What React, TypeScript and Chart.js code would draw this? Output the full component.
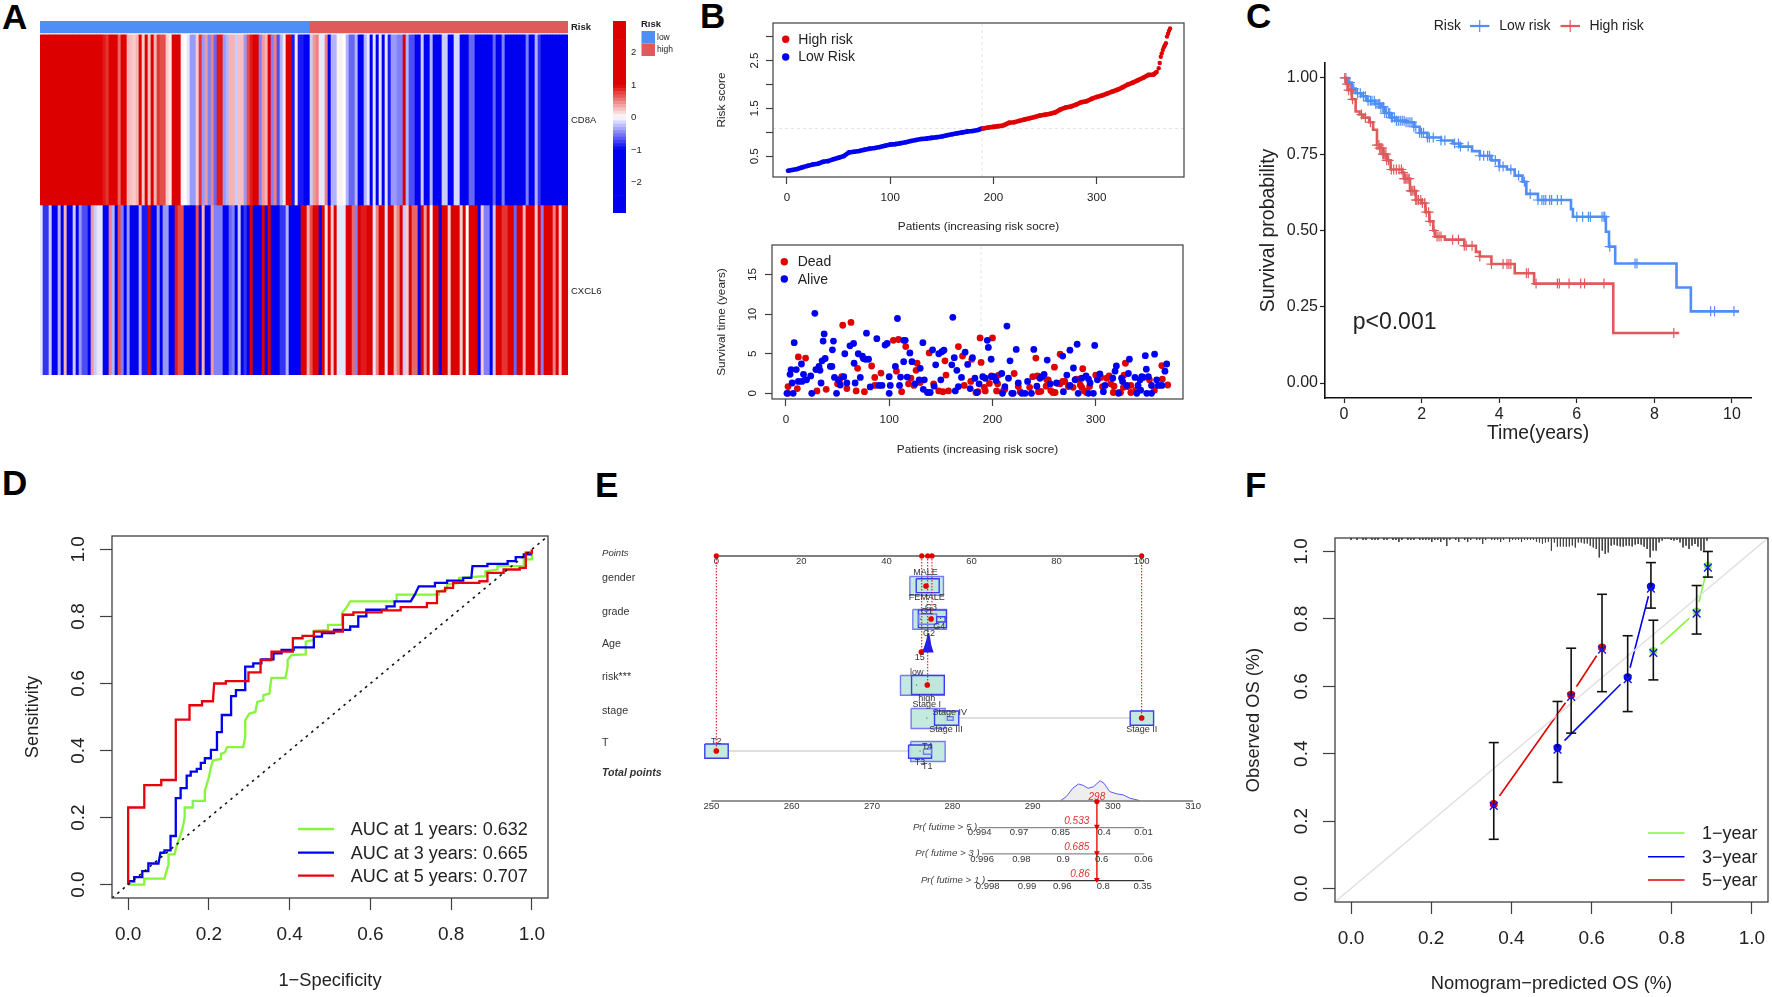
import React, { useEffect, useRef } from "react";
import { Chart, registerables } from "chart.js";

Chart.register(...registerables);

const F = '"Liberation Sans", Arimo, Helvetica, Arial, sans-serif';
const RED = "#e00000";
const BLUE = "#0000f0";
const DARK = "#3f3f3f";

/* ---------- Panel A ---------- */
const heatCD8A = [
  2.1,1.8,2.2,1.9,2.3,1.7,2.0,2.4,1.8,2.1,1.6,2.2,1.9,1.7,2.3,1.5,2.0,1.8,2.4,1.9,1.7,
  0.9,0.8,1.0,1.3,1.8,0.6,1.4,1.6,0.3,0.25,0.2,0.3,1.7,0.2,1.2,0.25,1.3,0.3,0.8,0.7,0.7,0.2,0.1,
  2.0,2.1,1.9,0.05,0,-0.1,-0.4,-0.4,0.2,0.8,-0.4,0.4,-0.5,0.5,-0.6,
  0.9,0.9,-0.4,-0.3,0.3,0.3,-0.2,0.25,0.25,-0.4,0.7,0.9,2.0,1.8,-0.5,0.4,0.3,1.1,-0.5,0.5,
  -0.7,-0.3,0.1,1.2,1.0,-0.9,0.1,-0.9,-0.9,-1.4,-1.4,-0.2,0.4,0.5,-0.1,-0.1,0.5,-1.2,-0.3,-0.3,
  0.05,0.05,0,-0.3,-0.6,-0.6,-0.3,-1.1,-1.1,-0.3,-0.1,-1.2,-0.1,-1.0,-0.1,-1.0,-0.1,-0.9,-0.4,
  -0.4,-0.5,-0.5,1.0,-0.3,-0.7,-0.7,-1.2,-1.2,-0.2,-1.1,-1.1,-0.3,-1.3,-1.3,-1.4,-0.2,-0.2,-1.3,-1.3,
  -0.15,-0.15,-1.3,-1.3,-1.4,-0.6,-0.6,-1.3,-1.3,-1.6,-1.5,-1.5,-1.4,-0.6,-1.4,-1.5,-0.5,-1.4,-1.5,-1.5,
  -1.6,-1.4,-1.5,-1.6,-0.5,-1.3,-1.4,-0.3,-0.8,-1.6,-1.6,-1.5,-1.6,-1.4,-1.6,-1.6,-1.5,-1.6,
];
const heatCXCL6 = [
  -0.1,-0.8,-0.8,-0.2,-1.4,-1.4,-0.3,-1.3,0.3,-1.4,-1.4,-0.2,-1.2,-0.4,-0.7,-0.7,-1.2,0.4,-0.2,-0.1,
  -0.1,-1.5,-1.5,0.5,-0.3,-1.1,0.7,-0.5,-1,-0.4,-1.5,-1.5,-1.5,-0.3,-0.9,-0.9,1.0,-1,-1,-0.4,
  -1.1,-0.4,-0.4,-1.1,-1.2,0.9,0.7,0.7,-1.5,-1.5,-1.5,-1.5,0.7,-1.3,0.3,-1.3,-1.3,0.4,-0.5,
  -0.5,-0.5,-1.4,-1.4,-0.6,-0.5,-1.3,-0.2,-1.3,-0.8,-1,1.8,-1.5,-1.5,-1.2,1.0,-1.3,1.2,-1,-1,
  -1,-0.8,-0.8,-0.3,-1.6,-1.6,-1.5,-1.5,1.0,1.0,0.3,0.7,1.2,1.2,-1.2,2.0,0.1,2.0,0.2,1.0,
  -0.1,-0.1,-0.1,1.8,1.8,0.6,-0.5,1.2,0.9,0.9,1.0,1.4,-0.1,0.5,1.4,1.4,-0.1,1.0,1.0,
  0.3,0.5,1.3,-0.2,0.2,1.5,0.6,0.6,-1,1.8,0.4,1.0,0,1.7,1.7,-1,1.8,1.8,0.2,1.8,
  2,2,0.2,1.9,0,1,1.4,2,-1,0.2,-0.5,-0.5,-1,-0.2,1.5,1.5,0.8,0.8,1.4,1.6,
  -0.6,1.4,1.3,0.3,1.9,1.9,1.9,0.2,1.5,-0.5,2,2,2,0.5,1.1,0.2,2.1,2.1,
];
const lowColumns = 90;
const colorbarEdges = [-2.94,-2.4,-1.9,-1.4,-1,-0.9,-0.8,-0.7,-0.6,-0.5,-0.4,-0.3,-0.2,-0.1,0,0.1,0.2,0.3,0.4,0.5,0.6,0.7,0.8,0.9,1,1.4,1.9,2.4,2.97];
const colorbarTicks = [2, 1, 0, -1, -2];
const colorbarLabels = ["2", "1", "0", "\u22121", "\u22122"];

/* ---------- Panel B ---------- */
const riskLow = [[1,0.2],[5,0.215],[10,0.235],[15,0.27],[20,0.3],[25,0.33],[30,0.345],[35,0.385],[40,0.4],[45,0.44],[50,0.47],[55,0.505],[60,0.58],[65,0.595],[70,0.61],[75,0.635],[80,0.66],[85,0.675],[90,0.695],[95,0.72],[100,0.744],[105,0.755],[110,0.775],[115,0.795],[120,0.82],[125,0.84],[130,0.86],[135,0.87],[140,0.885],[145,0.9],[150,0.915],[155,0.94],[160,0.96],[165,0.98],[170,1.0],[175,1.02],[180,1.03],[185,1.05],[189,1.08]];
const riskHigh = [[190,1.08],[195,1.1],[200,1.115],[205,1.13],[210,1.15],[215,1.2],[220,1.21],[225,1.24],[230,1.27],[235,1.295],[240,1.32],[245,1.35],[250,1.37],[255,1.39],[260,1.42],[265,1.48],[270,1.52],[275,1.54],[280,1.58],[285,1.63],[290,1.65],[295,1.7],[300,1.74],[305,1.77],[310,1.81],[315,1.85],[320,1.89],[325,1.94],[330,2.0],[335,2.04],[340,2.09],[345,2.14],[350,2.2],[355,2.21],[358,2.26]];
const riskTail = [[360,2.34],[361,2.45],[362,2.58],[363,2.65],[364,2.72],[365,2.78],[366,2.82],[367,2.86],[368,3.0],[369,3.06],[370,3.12],[371,3.17]];
const riskCutX = 189;
const riskCutY = 1.08;
const deadPatients = [[2,0.85],[2,0],[12,4.6],[11,0.6],[19,4.45],[18.7,1.7],[30,0.3],[39,0.5],[50,1.2],[52,1.7],[54,2.1],[55,8.6],[59,0.6],[63,8.95],[68,0.3],[69.4,3.15],[76,0.2],[83,3.45],[86,2],[86,1],[92,2.55],[104,6.7],[109,6.8],[107,2.8],[112,0.2],[116,5.9],[118.7,1.2],[121,1.9],[124,1],[126,2.9],[127,3.8],[130,1.35],[138.7,5.1],[143,1.2],[148,0.3],[152,0.2],[154,4.1],[155,2.3],[157.4,0.3],[167,5.9],[171,4.7],[172.6,1],[180,4.3],[179,1.5],[184,0.1],[186,0.2],[188,7],[189,3.9],[192,0.75],[193,0.3],[197,1.25],[200,7],[199,2.2],[204,0.3],[205,1.2],[206,2.3],[210.6,0.35],[212,0.5],[221,2.5],[225,0.85],[226.8,0.2],[236,0.75],[239,2.1],[242,4.45],[243.5,2.2],[244.5,0.2],[246.8,0.25],[252,0.9],[252.6,1.7],[254,1.7],[256.5,0.35],[258.4,0.1],[260,3.3],[260.6,0.1],[264,1.25],[265.5,4.95],[265.5,1.2],[268,1.5],[270,1.5],[273.5,0.85],[278,0.75],[281,1.8],[283.5,1.8],[285,1.05],[286.5,0.75],[287.4,3.1],[289,0.3],[291,0.1],[294,0.85],[300,2.3],[305,2],[306.5,0.85],[310.6,1.9],[313,2.2],[314.5,1.2],[317,0.1],[317.7,0.9],[322.6,0.1],[324,0.1],[327.4,2.3],[326.8,0.75],[328.7,3.8],[330.6,0.85],[334,1],[334,0.1],[339,0.4],[352,1.7],[356.8,0.4],[364,3.5],[364.5,1.8],[369.7,1.05]];
const alivePatients = [[1,0],[7,0],[4,2.4],[5,3],[8,6.4],[6,1.3],[10,3],[15,3.7],[17,2.4],[12,1.5],[15.5,1.5],[20,1.7],[24,2.2],[25,0],[28,10.1],[29,3],[32,3.4],[33,2.9],[34,1.3],[35,4.1],[38,4.4],[36,6.6],[37,7.5],[43,3.4],[44.5,3.4],[45,5.5],[46,6.6],[47,2],[49,0],[51,1.7],[52.6,1.05],[56,2.1],[57,5],[59,1.3],[62,6],[65.5,6.3],[66,3.8],[67,1.3],[70,5],[72,2],[74,4.7],[75,4.4],[77,4.3],[78,7.6],[80,4.3],[81.6,0.8],[88,6.9],[90,1],[93,1],[96,6.1],[98,6.3],[100,0],[100,2.1],[101,1],[106,3.4],[108,9.45],[110,1],[114,6.7],[115.5,6.7],[114,4],[111,2.05],[117.4,2.05],[120,5.1],[122,4],[125,1.2],[130,3.15],[129,1.7],[132.6,6.4],[133,0.5],[134,1.7],[137,0.1],[139.7,0.1],[142,5.5],[143.5,0.9],[145,3.6],[148,5],[150,1.7],[151,5.25],[153,5.45],[160.6,3.6],[161.6,9.6],[163,4.5],[165.5,2.9],[164,0.3],[167,0.85],[170,2],[173.5,5.2],[176,3.65],[178.4,0.6],[180.6,4.5],[183,1.9],[185,0.1],[187,1.2],[190.6,2.1],[193,1.9],[195,6.7],[196,5.8],[198.7,4.3],[199,2.1],[201.6,2.1],[203.5,1.6],[209,2.5],[209.7,0],[212,0.85],[214,8.5],[215.5,1.9],[217,4.1],[218.7,0],[220,0],[223,5.55],[225,1.3],[228.4,0],[231.6,0],[234,1.5],[237.7,0],[240,5.55],[243,0.9],[246,1.9],[247.7,2.1],[250,2.4],[253,4.2],[256,1.2],[262,1.3],[268,4.7],[268.7,0.2],[272,2.3],[275,5.45],[275,1],[278.4,3.2],[280,1.7],[282,6.2],[283,0],[286.5,1.9],[290.6,2.2],[293,1.8],[294.5,1.3],[293,0],[297.7,0],[299,6.05],[301.6,1.7],[304,2.45],[307.4,0.2],[309,1],[316.5,1.9],[318.7,2.8],[320,3.45],[322,0],[326,1.5],[325,1.9],[330,1],[331.6,2.5],[332.6,4.3],[338,2],[339.7,0],[341,1],[343,1.7],[344.5,2.1],[343.5,0.4],[346,2],[348,4.75],[349,3.05],[351,2.1],[349.4,0],[354,0],[354,1],[357,4.95],[359,1.7],[360.6,1],[364,1],[367,2.8],[368.7,3.7]];

/* ---------- Panel C ---------- */
const kmLow = [[0,1],[0.1,0.985],[0.2,0.965],[0.3,0.95],[0.45,0.94],[0.6,0.925],[0.8,0.915],[0.95,0.905],[1.05,0.885],[1.2,0.87],[1.35,0.86],[1.6,0.855],[1.8,0.84],[1.95,0.82],[2.15,0.805],[2.5,0.795],[2.8,0.785],[3.0,0.775],[3.3,0.76],[3.5,0.745],[3.8,0.73],[4.0,0.71],[4.2,0.7],[4.4,0.68],[4.6,0.66],[4.7,0.62],[5.0,0.6],[5.85,0.57],[5.9,0.545],[6.75,0.496],[6.83,0.447],[6.99,0.392],[8.57,0.313],[8.94,0.235],[10.18,0.235]];
const kmHigh = [[0,1],[0.05,0.98],[0.1,0.96],[0.2,0.93],[0.3,0.89],[0.4,0.88],[0.5,0.87],[0.65,0.855],[0.75,0.83],[0.85,0.78],[0.92,0.77],[1.0,0.75],[1.1,0.73],[1.2,0.7],[1.5,0.69],[1.55,0.67],[1.7,0.63],[1.85,0.6],[2.0,0.59],[2.1,0.56],[2.2,0.53],[2.3,0.5],[2.35,0.48],[2.6,0.47],[3.1,0.45],[3.4,0.43],[3.5,0.415],[3.8,0.39],[4.4,0.36],[4.9,0.326],[6.94,0.164],[8.64,0.164]];
const censorLow = [0.05,0.15,0.25,0.35,0.42,0.5,0.55,0.62,0.68,0.72,0.78,0.82,0.88,0.92,0.95,1.0,1.02,1.05,1.1,1.15,1.18,1.22,1.25,1.3,1.35,1.4,1.45,1.5,1.55,1.6,1.65,1.7,1.75,1.8,1.85,1.95,2.0,2.05,2.15,2.2,2.3,2.5,2.6,2.85,2.95,3.0,3.2,3.5,3.6,3.7,3.75,3.9,4.0,4.1,4.3,4.5,4.65,4.8,5.0,5.1,5.15,5.2,5.3,5.35,5.5,5.6,6.0,6.15,6.3,6.35,6.65,6.7,6.72,6.85,7.5,7.55,9.45,9.55,10.05];
const censorHigh = [0.02,0.08,0.12,0.18,0.22,0.45,0.55,0.68,0.85,0.9,0.92,0.95,0.98,1.0,1.02,1.05,1.08,1.1,1.15,1.22,1.28,1.35,1.42,1.48,1.52,1.55,1.58,1.62,1.65,1.68,1.72,1.75,1.78,1.82,1.85,1.88,1.92,1.98,2.02,2.08,2.12,2.18,2.22,2.32,2.4,2.45,2.5,2.8,2.95,3.1,3.15,3.3,3.5,3.8,4.1,4.2,4.25,4.3,4.7,4.75,4.95,5.5,5.55,5.8,6.1,6.2,6.7,8.5];

/* ---------- Panel D ---------- */
const roc1 = [[0,0],[0.04,0],[0.04,0.018],[0.09,0.018],[0.095,0.04],[0.1,0.06],[0.1,0.09],[0.115,0.09],[0.12,0.115],[0.13,0.15],[0.135,0.17],[0.14,0.2],[0.14,0.23],[0.16,0.23],[0.16,0.25],[0.19,0.25],[0.19,0.28],[0.195,0.3],[0.2,0.32],[0.205,0.35],[0.21,0.37],[0.23,0.375],[0.23,0.39],[0.24,0.395],[0.245,0.41],[0.285,0.41],[0.29,0.44],[0.29,0.49],[0.3,0.51],[0.315,0.515],[0.32,0.545],[0.335,0.55],[0.335,0.565],[0.35,0.57],[0.353,0.6],[0.355,0.617],[0.39,0.617],[0.395,0.65],[0.395,0.67],[0.405,0.685],[0.44,0.687],[0.44,0.725],[0.46,0.73],[0.46,0.757],[0.495,0.76],[0.495,0.775],[0.53,0.775],[0.53,0.81],[0.54,0.825],[0.55,0.845],[0.665,0.845],[0.665,0.865],[0.77,0.865],[0.77,0.875],[0.79,0.88],[0.79,0.895],[0.82,0.9],[0.82,0.915],[0.885,0.92],[0.885,0.935],[0.915,0.94],[0.915,0.95],[0.98,0.95],[0.98,0.97],[1,0.97],[1,1]];
const roc3 = [[0,0],[0,0.01],[0.015,0.01],[0.015,0.022],[0.035,0.022],[0.035,0.04],[0.05,0.04],[0.05,0.063],[0.075,0.063],[0.08,0.095],[0.09,0.095],[0.09,0.102],[0.105,0.102],[0.105,0.145],[0.118,0.145],[0.118,0.258],[0.13,0.258],[0.13,0.288],[0.145,0.288],[0.145,0.325],[0.155,0.325],[0.155,0.337],[0.17,0.337],[0.17,0.345],[0.18,0.345],[0.18,0.363],[0.19,0.363],[0.19,0.377],[0.205,0.377],[0.205,0.402],[0.22,0.402],[0.22,0.455],[0.232,0.455],[0.232,0.506],[0.255,0.506],[0.255,0.562],[0.267,0.562],[0.267,0.58],[0.29,0.58],[0.29,0.65],[0.31,0.65],[0.31,0.66],[0.33,0.66],[0.33,0.672],[0.36,0.672],[0.36,0.69],[0.38,0.69],[0.38,0.7],[0.41,0.7],[0.41,0.708],[0.46,0.708],[0.46,0.74],[0.48,0.74],[0.48,0.75],[0.51,0.75],[0.51,0.76],[0.55,0.76],[0.55,0.77],[0.57,0.77],[0.57,0.8],[0.59,0.8],[0.59,0.82],[0.64,0.82],[0.64,0.83],[0.66,0.83],[0.66,0.845],[0.7,0.845],[0.71,0.865],[0.72,0.89],[0.76,0.89],[0.76,0.9],[0.79,0.9],[0.79,0.907],[0.83,0.907],[0.83,0.915],[0.85,0.915],[0.853,0.95],[0.89,0.95],[0.89,0.957],[0.94,0.957],[0.94,0.965],[0.96,0.965],[0.96,0.977],[0.98,0.977],[0.98,0.985],[1,0.985]];
const roc5 = [[0,0],[0,0.23],[0.04,0.23],[0.04,0.297],[0.082,0.297],[0.082,0.312],[0.118,0.312],[0.118,0.492],[0.152,0.492],[0.152,0.535],[0.183,0.535],[0.183,0.547],[0.21,0.547],[0.213,0.6],[0.242,0.6],[0.242,0.607],[0.298,0.607],[0.298,0.633],[0.328,0.633],[0.328,0.67],[0.355,0.67],[0.355,0.695],[0.406,0.695],[0.408,0.735],[0.432,0.735],[0.432,0.742],[0.46,0.742],[0.46,0.755],[0.532,0.755],[0.532,0.805],[0.558,0.805],[0.558,0.812],[0.628,0.812],[0.628,0.818],[0.675,0.818],[0.675,0.828],[0.74,0.828],[0.74,0.84],[0.765,0.84],[0.765,0.875],[0.785,0.875],[0.785,0.885],[0.805,0.885],[0.805,0.9],[0.87,0.9],[0.87,0.905],[0.89,0.905],[0.89,0.93],[0.93,0.93],[0.93,0.94],[0.97,0.94],[0.97,0.945],[0.985,0.945],[0.985,0.99],[1,0.99],[1,1]];
const rocLegend = ["AUC at 1 years: 0.632", "AUC at 3 years: 0.665", "AUC at 5 years: 0.707"];
const unitTicks = [0, 0.2, 0.4, 0.6, 0.8, 1];

/* ---------- Panel E ---------- */
const nomoRowNames: [string, number, string][] = [
  ["Points", 0.02, "italic"], ["gender", 0.77, ""], ["grade", 1.78, ""], ["Age", 2.77, ""],
  ["risk***", 3.75, ""], ["stage", 4.78, ""], ["T", 5.77, ""], ["Total points", 6.68, "italic bold"],
];
const pointTicks = [0, 20, 40, 60, 80, 100];
const totalTicks = [250, 260, 270, 280, 290, 300, 310];
const nomoLevels: [string, number, number][] = [
  ["MALE",49.2,0.6],["FEMALE",49.5,1.35],["G3",50.5,1.65],["G1",49.5,1.77],["G4",52.4,2.23],["G2",50,2.43],
  ["15",47.8,3.17],["low",47.1,3.62],["high",49.5,4.4],["Stage I",49.5,4.59],["Stage IV",54.9,4.84],
  ["Stage III",54,5.34],["Stage II",100,5.34],["T2",0,5.7],["T4",49.6,5.85],["T3",47.9,6.35],["T1",49.6,6.46],
];
const nomoBoxes = [
  [45.5,53.4,0.71,1.28],[47,52.4,0.78,1.2],
  [46.2,54.1,1.71,2.31],[47.5,54.1,1.73,2.26],[47.6,51.8,1.85,2.16],[51.8,53.8,1.93,2.09],
  [43.3,53.6,3.71,4.31],[45.9,53.6,3.71,4.29],
  [45.8,53.8,4.71,5.32],[51.3,57,4.79,5.22],[54.3,55.7,4.96,5.07],[97.3,102.8,4.79,5.22],
  [45.7,53.8,5.71,6.32],[45.2,50.6,5.82,6.22],[48.7,50.6,5.94,6.1],[-2.7,2.8,5.79,6.22],
];
const nomoConnectors = [[57,97.3,5],[2.8,45.2,6]];
const nomoAgeShape = [[49.8,2.43],[49.5,2.64],[48.9,2.89],[48.3,3],[50.9,3],[50.4,2.79],[50.1,2.54],[49.8,2.43]];
const nomoDots = [[49.3,1],[50.5,2],[48.2,3],[49.6,4],[100,5],[0,6]];
const nomoAxisDots = [0, 48.3, 49.7, 50.7, 100];
const nomoDrops = [[0,6],[100,5],[48.3,3],[50.7,2],[49.7,4]];
const nomoSmallDots = [[47.1,4],[49.5,5],[47.9,6],[49.6,5.93],[52.7,1.98],[48,2]];
const densityTotal = [[293.5,7.5],[294.2,7.38],[295,7.13],[295.7,7],[296.3,7.04],[296.9,7.13],[297.6,7.08],[298.4,6.9],[298.9,6.98],[299.6,7.23],[300.5,7.3],[301.3,7.33],[302.1,7.43],[303.3,7.5]];
const predictedTotal = 298;
const nomoProbAxes: { title: string; row: number; titleEnd: number; start: number; color: string; red: string; redRow: number; redX: number; labels: [string, number][]; labelRow: number }[] = [
  { title: "Pr( futime > 5 )", row: 8.32, titleEnd: 283.1, start: 283.3, color: "#8a8a8a", red: "0.533", redRow: 8.12, redX: 295.5, labelRow: 8.47, labels: [["0.994",283.4],["0.97",288.3],["0.85",293.5],["0.4",298.9],["0.01",303.8]] },
  { title: "Pr( futime > 3 )", row: 9.12, titleEnd: 283.4, start: 283.7, color: "#8a8a8a", red: "0.685", redRow: 8.93, redX: 295.5, labelRow: 9.27, labels: [["0.996",283.7],["0.98",288.6],["0.9",293.8],["0.6",298.6],["0.06",303.8]] },
  { title: "Pr( futime > 1 )", row: 9.93, titleEnd: 284.1, start: 284.4, color: "#333333", red: "0.86", redRow: 9.73, redX: 295.9, labelRow: 10.09, labels: [["0.998",284.4],["0.99",289.3],["0.96",293.7],["0.8",298.8],["0.35",303.7]] },
];

/* ---------- Panel F ---------- */
const cal1 = [[0.754,0.705,0.619,0.796],[0.862,0.822,0.755,0.899],[0.89,0.958,0.924,1.0]];
const cal3 = [[0.515,0.418,0.315,0.555],[0.69,0.627,0.525,0.75],[0.748,0.896,0.832,0.967]];
const cal5 = [[0.356,0.251,0.146,0.433],[0.549,0.575,0.461,0.713],[0.626,0.715,0.584,0.873]];
const calCorrection = -0.006;
const calLegend = ["1\u2212year", "3\u2212year", "5\u2212year"];
const rugStart = 0.0;
const rugStep = 0.00746;
const rugCounts = [
  1,0,1,0,1,1,0,1,1,1,0,1,1,0,1,1,2,1,0,1,1,1,0,1,1,1,1,2,1,1,2,1,4,1,0,1,2,0,1,2,1,0,1,1,3,1,0,1,1,1,2,1,0,2,1,1,1,2,1,1,1,1,2,
  2.2,3,2.2,1.8,6.3,2.2,4.3,4.2,4.2,4.3,4.2,3.7,4.7,2.2,2.2,2.7,2.7,3.8,4.7,5.5,9.7,6.3,8,7.2,3.8,3.3,3.8,4.2,4.3,3.8,3.8,4.2,3.3,3,3.3,4.3,5.5,9.7,6.3,6.3,2.2,1.3,0.5,0.5,1,1.3,1,2.2,4.7,3.8,5.5,3.8,3,4.3,6.3,6.3,1.3,
];
const rugPixelsPerCount = 2;

/* ---------- helpers ---------- */
const pts = (a: number[][]) => a.map(([x, y]) => ({ x, y }));

const txt = (c: any, s: string, x: number, y: number, font: string, color = "#222", align: any = "left", rot = 0) => {
  c.save();
  c.translate(x, y);
  if (rot) c.rotate(rot);
  c.font = font;
  c.fillStyle = color;
  c.textAlign = align;
  c.textBaseline = "middle";
  c.fillText(s, 0, 0);
  c.restore();
};
const seg = (c: any, x0: number, y0: number, x1: number, y1: number, color: string, w: number) => {
  c.save();
  c.strokeStyle = color;
  c.lineWidth = w;
  c.beginPath();
  c.moveTo(x0, y0);
  c.lineTo(x1, y1);
  c.stroke();
  c.restore();
};
const dot = (c: any, x: number, y: number, r: number, color: string) => {
  c.save();
  c.fillStyle = color;
  c.beginPath();
  c.arc(x, y, r, 0, Math.PI * 2);
  c.fill();
  c.restore();
};

type Rect = { left: number; top: number; width: number; height: number };

function scale(o: any) {
  const fmt = o.labels ? (v: number) => o.labels[o.ticks.indexOf(v)] : o.fmt || ((v: number) => String(v));
  return {
    type: "linear",
    position: o.position,
    min: o.min,
    max: o.max,
    afterBuildTicks: (s: any) => {
      s.ticks = o.ticks.map((value: number) => ({ value }));
    },
    afterFit: (s: any) => {
      if (o.box.width !== undefined) s.width = o.box.width;
      if (o.box.height !== undefined) s.height = o.box.height;
      s.paddingLeft = s.paddingRight = s.paddingTop = s.paddingBottom = 0;
    },
    ticks: {
      autoSkip: false,
      font: { family: F, size: o.size },
      color: o.tickColor || "#222",
      padding: o.pad,
      callback: fmt,
      ...(o.rot ? { minRotation: 90, maxRotation: 90, crossAlign: "center" } : { minRotation: 0, maxRotation: 0 }),
    },
    grid: {
      display: true,
      drawOnChartArea: false,
      drawTicks: true,
      tickLength: o.tl,
      tickColor: o.lineColor || DARK,
      tickWidth: o.lineW || 1.2,
    },
    border: o.axisLine ? { display: true, color: "#111", width: 1.6 } : { display: false },
    title: o.title
      ? { display: true, text: o.title, padding: 0, color: "#222", font: { family: F, size: o.titleSize, lineHeight: 1.2 } }
      : { display: false },
  };
}

const framePlugin = (color: string, w: number) => ({
  id: "frame",
  afterDatasetsDraw(ch: any) {
    const a = ch.chartArea;
    const c = ch.ctx;
    c.save();
    c.strokeStyle = color;
    c.lineWidth = w;
    c.strokeRect(a.left, a.top, a.right - a.left, a.bottom - a.top);
    c.restore();
  },
});
const overlay = (ox: number, oy: number, draw: (c: any, ch: any) => void) => ({
  id: "overlay",
  afterDatasetsDraw(ch: any) {
    const c = ch.ctx;
    c.save();
    c.translate(-ox, -oy);
    draw(c, ch);
    c.restore();
  },
});

const baseOptions = (layoutPadding: any, scales: any) => ({
  responsive: false,
  maintainAspectRatio: false,
  animation: false,
  events: [],
  devicePixelRatio: 1,
  layout: { padding: layoutPadding, autoPadding: false },
  plugins: { legend: { display: false }, tooltip: { enabled: false } },
  scales,
});

/* plot panel with exact plot rectangle */
function plotPanel(p: any) {
  const lh = (s: number) => s * 1.2;
  const yW = p.x0 - p.yTitleX + lh(p.yTitleSize) / 2;
  const xH = p.xTitleY - p.y1 + lh(p.xTitleSize) / 2;
  const padT = 10;
  const padR = p.padR ?? 12;
  const rect: Rect = {
    left: Math.round(p.x0 - yW),
    top: p.y0 - padT,
    width: Math.round(p.x1 - (p.x0 - yW) + padR),
    height: Math.round(p.y1 - p.y0 + padT + xH),
  };
  const fixedW = p.x0 - rect.left;
  const fixedH = rect.top + rect.height - p.y1;
  return {
    rect,
    make: (datasets: any[], extra: any[]) => ({
      type: "scatter",
      data: { datasets },
      plugins: extra,
      options: baseOptions(
        { top: padT, right: rect.width - fixedW - (p.x1 - p.x0), left: 0, bottom: 0 },
        {
          x: scale({ ...p.xAxis, position: "bottom", box: { height: fixedH }, title: p.xTitle, titleSize: p.xTitleSize }),
          y: scale({ ...p.yAxis, position: "left", box: { width: fixedW }, title: p.yTitle, titleSize: p.yTitleSize }),
        }
      ),
    }),
    ox: rect.left,
    oy: rect.top,
  };
}

const heatColor = (z: number) => {
  const t = Math.min(Math.abs(z), 1);
  const mix = (a: number, b: number) => Math.round(a + (b - a) * t);
  return z >= 0
    ? `rgb(${mix(255, 221)},${mix(255, 0)},${mix(255, 0)})`
    : `rgb(${mix(255, 0)},${mix(255, 0)},${mix(255, 240)})`;
};

function stepAt(curve: number[][], t: number) {
  let s = curve[0][1];
  for (const [x, y] of curve) if (x <= t) s = y;
  return s;
}

/* ---------- all panels ---------- */
function buildCharts(): { rect: Rect; config: any }[] {
  const out: { rect: Rect; config: any }[] = [];

  /* A heatmap */
  {
    const rect = { left: 40, top: 21, width: 528 + 130, height: 354 };
    const labels = heatCD8A.map((_, i) => String(i + 1));
    const annoTop = 2.082;
    const annoBottom = 2.012;
    out.push({
      rect,
      config: {
        type: "bar",
        data: {
          labels,
          datasets: [
            { data: heatCD8A.map(() => [1, 2]), backgroundColor: heatCD8A.map(heatColor) },
            { data: heatCXCL6.map(() => [0, 1]), backgroundColor: heatCXCL6.map(heatColor) },
            { data: labels.map(() => [annoBottom, annoTop]), backgroundColor: labels.map((_, i) => (i < lowColumns ? "#4f8ef5" : "#e05a5c")) },
          ].map((d) => ({ ...d, grouped: false, barPercentage: 1, categoryPercentage: 1, borderWidth: 0 })),
        },
        plugins: [
          overlay(rect.left, rect.top, (c) => {
            const f = `9.5px ${F}`;
            txt(c, "Risk", 571, 27, `bold ${f}`);
            txt(c, "CD8A", 571, 120, f);
            txt(c, "CXCL6", 571, 291, f);
            txt(c, "Risk", 641, 24, `bold ${f}`);
            c.fillStyle = "#4f8ef5";
            c.fillRect(641.5, 31, 13.5, 12.5);
            c.fillStyle = "#e05a5c";
            c.fillRect(641.5, 43.5, 13.5, 12.5);
            txt(c, "low", 657, 37.5, `8.5px ${F}`);
            txt(c, "high", 657, 50, `8.5px ${F}`);
          }),
        ],
        options: baseOptions(
          { right: 130, left: 0, top: 0, bottom: 0 },
          {
            x: { type: "category", display: false, offset: true, grid: { display: false } },
            y: { type: "linear", display: false, min: 0, max: annoTop },
          }
        ),
      },
    });
  }
  /* A colour key */
  {
    const rect = { left: 613, top: 21, width: 36, height: 192 };
    const y = scale({ min: -2.94, max: 2.97, ticks: colorbarTicks, labels: colorbarLabels, size: 9.5, pad: 5, tl: 0, box: { width: 23 }, position: "right" });
    out.push({
      rect,
      config: {
        type: "bar",
        data: {
          labels: ["key"],
          datasets: colorbarEdges.slice(1).map((hi, i) => {
            const lo = colorbarEdges[i];
            return { data: [[lo, hi]], backgroundColor: heatColor((lo + hi) / 2), grouped: false, barPercentage: 1, categoryPercentage: 1, borderWidth: 0 };
          }),
        },
        options: baseOptions(
          { left: 0, top: 0, right: 0, bottom: 0 },
          {
            x: { type: "category", display: false, offset: true },
            y: { ...y, grid: { display: false, drawTicks: false, tickLength: 0 } },
          }
        ),
      },
    });
  }

  /* B upper */
  {
    const p = plotPanel({
      x0: 773, x1: 1184, y0: 23, y1: 177,
      yTitle: "Risk score", yTitleX: 722.3, yTitleSize: 11.8,
      xTitle: "Patients (increasing risk socre)", xTitleY: 226.7, xTitleSize: 11.8,
      xAxis: { min: -13.5, max: 384.5, ticks: [0, 100, 200, 300], size: 11.6, tl: 7, pad: 6.5, lineColor: DARK },
      yAxis: { min: 0.068, max: 3.284, ticks: [0.5, 1, 1.5, 2, 2.5, 3], labels: ["0.5", "", "1.5", "", "2.5", ""], size: 11.6, tl: 7, pad: 3.5, rot: true },
    });
    const dashed = { showLine: true, borderColor: "#e4e4e4", borderWidth: 1, borderDash: [3, 3], pointRadius: 0 };
    out.push({
      rect: p.rect,
      config: p.make(
        [
          { data: pts(riskTail), backgroundColor: RED, borderColor: RED, pointRadius: 2.2, pointBorderWidth: 0 },
          { data: pts(riskHigh), showLine: true, borderColor: RED, borderWidth: 4.6, backgroundColor: RED, pointRadius: 2.3, pointBorderWidth: 0 },
          { data: pts(riskLow), showLine: true, borderColor: BLUE, borderWidth: 4.6, backgroundColor: BLUE, pointRadius: 2.3, pointBorderWidth: 0 },
          { data: [{ x: riskCutX, y: 0.068 }, { x: riskCutX, y: 3.284 }], ...dashed },
          { data: [{ x: -13.5, y: riskCutY }, { x: 384.5, y: riskCutY }], ...dashed },
        ],
        [
          framePlugin(DARK, 1.2),
          overlay(p.ox, p.oy, (c) => {
            dot(c, 785.7, 39.3, 3.7, RED);
            dot(c, 785.7, 57, 3.7, BLUE);
            txt(c, "High risk", 798.3, 40, `14px ${F}`);
            txt(c, "Low Risk", 798.3, 57.5, `14px ${F}`);
          }),
        ]
      ),
    });
  }
  /* B lower */
  {
    const p = plotPanel({
      x0: 772, x1: 1183, y0: 245, y1: 399,
      yTitle: "Survival time (years)", yTitleX: 721.7, yTitleSize: 11.8,
      xTitle: "Patients (increasing risk socre)", xTitleY: 450, xTitleSize: 11.8,
      xAxis: { min: -13.5, max: 384.5, ticks: [0, 100, 200, 300], size: 11.6, tl: 7, pad: 6.5 },
      yAxis: { min: -0.72, max: 18.74, ticks: [0, 5, 10, 15], labels: ["0", "5", "10", "15"], size: 11.6, tl: 7, pad: 6, rot: true },
    });
    out.push({
      rect: p.rect,
      config: p.make(
        [
          { data: pts(alivePatients), backgroundColor: BLUE, pointRadius: 3.4, pointBorderWidth: 0 },
          { data: pts(deadPatients), backgroundColor: RED, pointRadius: 3.4, pointBorderWidth: 0 },
          { data: [{ x: riskCutX, y: -0.72 }, { x: riskCutX, y: 18.74 }], showLine: true, borderColor: "#e4e4e4", borderWidth: 1, borderDash: [3, 3], pointRadius: 0 },
        ],
        [
          framePlugin(DARK, 1.2),
          overlay(p.ox, p.oy, (c) => {
            dot(c, 784.3, 261.7, 3.7, RED);
            dot(c, 784.3, 279, 3.7, BLUE);
            txt(c, "Dead", 797.7, 262.5, `14px ${F}`);
            txt(c, "Alive", 797.7, 280, `14px ${F}`);
          }),
        ]
      ),
    });
  }

  /* C */
  {
    const LB = "#4f8ef5";
    const HR = "#e05a5c";
    const p = plotPanel({
      x0: 1325, x1: 1751, y0: 63, y1: 398, padR: 12,
      yTitle: "Survival probability", yTitleX: 1269, yTitleSize: 19.5,
      xTitle: "Time(years)", xTitleY: 433, xTitleSize: 19.3,
      xAxis: { min: -0.49, max: 10.49, ticks: [0, 2, 4, 6, 8, 10], size: 16, tl: 5, pad: 2, axisLine: true, lineColor: "#222" },
      yAxis: { min: -0.049, max: 1.049, ticks: [0, 0.25, 0.5, 0.75, 1], fmt: (v: number) => v.toFixed(2), size: 16, tl: 5, pad: 2, axisLine: true, lineColor: "#222" },
    });
    const line = (data: number[][], color: string) => ({ data: pts(data), showLine: true, stepped: true, borderColor: color, borderWidth: 2.6, pointRadius: 0 });
    const marks = (ts: number[], curve: number[][], color: string) => ({
      data: ts.map((t) => ({ x: t, y: stepAt(curve, t) })),
      pointStyle: "cross",
      pointRadius: 5,
      pointBorderWidth: 1.2,
      pointBorderColor: color,
    });
    out.push({
      rect: { ...p.rect, top: 0, height: p.rect.height + p.rect.top },
      config: (() => {
        const cfg = p.make(
          [marks(censorHigh, kmHigh, HR), line(kmHigh, HR), marks(censorLow, kmLow, LB), line(kmLow, LB)],
          [
            overlay(p.ox, 0, (c) => {
              const f = `14px ${F}`;
              txt(c, "Risk", 1433.7, 26, f);
              seg(c, 1470, 26, 1489.4, 26, LB, 2.2);
              seg(c, 1479.7, 20, 1479.7, 32, LB, 1.2);
              txt(c, "Low risk", 1499.2, 26, f);
              seg(c, 1560.5, 26, 1580, 26, HR, 2.2);
              seg(c, 1570.2, 20, 1570.2, 32, HR, 1.2);
              txt(c, "High risk", 1589.4, 26, f);
              txt(c, "p<0.001", 1352.7, 322.7, `23px ${F}`, "#222");
            }),
          ]
        );
        cfg.options.layout.padding.top = 63;
        return cfg;
      })(),
    });
  }

  /* D */
  {
    const p = plotPanel({
      x0: 112, x1: 548, y0: 536, y1: 898,
      yTitle: "Sensitivity", yTitleX: 32.5, yTitleSize: 18.3,
      xTitle: "1\u2212Specificity", xTitleY: 981, xTitleSize: 18.3,
      xAxis: { min: -0.04, max: 1.04, ticks: unitTicks, fmt: (v: number) => v.toFixed(1), size: 19, tl: 12, pad: 13.5 },
      yAxis: { min: -0.04, max: 1.04, ticks: unitTicks, fmt: (v: number) => v.toFixed(1), size: 19, tl: 12, pad: 8, rot: true },
    });
    const curve = (d: number[][], color: string) => ({ data: pts(d), showLine: true, borderColor: color, borderWidth: 2.3, pointRadius: 0 });
    out.push({
      rect: p.rect,
      config: p.make(
        [
          { data: [{ x: -0.04, y: -0.04 }, { x: 1.04, y: 1.04 }], showLine: true, borderColor: "#111", borderWidth: 1.6, borderDash: [2.5, 4.5], pointRadius: 0 },
          curve(roc5, "#e8000b"),
          curve(roc3, "#0000f0"),
          curve(roc1, "#86f53b"),
        ],
        [
          framePlugin(DARK, 1.3),
          overlay(p.ox, p.oy, (c) => {
            const ys = [829, 852.7, 875.7];
            const cs = ["#86f53b", "#0000f0", "#e8000b"];
            rocLegend.forEach((s, i) => {
              seg(c, 298, ys[i], 334, ys[i], cs[i], 2.3);
              txt(c, s, 350.7, ys[i] + 1, `18px ${F}`);
            });
          }),
        ]
      ),
    });
  }

  /* E nomogram */
  {
    const rect = { left: 590, top: 540, width: 620, height: 360 };
    const xMin = -29.69, xMax = 116.06, tMin = 234.88, tMax = 312.09, rMin = -0.394, rMax = 10.515;
    const poly = (points: number[][], border: string, bg: string, w: number) => ({ data: pts(points), showLine: true, tension: 0, fill: "shape", borderColor: border, backgroundColor: bg, borderWidth: w, pointRadius: 0 });
    const box = ([a, b, r0, r1]: number[], i: number) =>
      poly([[a, r0], [b, r0], [b, r1], [a, r1], [a, r0]], i % 2 === 0 ? "#7a7af5" : "#3c3cf0", "rgba(190,232,220,0.9)", 1.4);
    const redDrop = ([x, r]: number[]) => ({ data: pts([[x, 0.09], [x, r]]), showLine: true, borderColor: "#e00000", borderWidth: 1, borderDash: [1.5, 1.5], pointRadius: 0 });
    const segT = (a: number[][], color: string, w: number) => ({ data: pts(a), xAxisID: "xt", showLine: true, borderColor: color, borderWidth: w, pointRadius: 0 });
    const datasets: any[] = [
      ...nomoProbAxes.map((a) => ({ data: [{ x: predictedTotal, y: a.row - 0.03 }], xAxisID: "xt", pointStyle: "triangle", rotation: 180, pointRadius: 3.4, backgroundColor: "#e00000", pointBorderWidth: 0 })),
      { data: [{ x: predictedTotal, y: 7.53 }], xAxisID: "xt", backgroundColor: "#e00000", pointRadius: 2.6, pointBorderWidth: 0 },
      segT([[predictedTotal, 7.5], [predictedTotal, 9.93]], "#ee3333", 1),
      { data: pts(nomoDots), backgroundColor: "#e00000", pointRadius: 2.8, pointBorderWidth: 0 },
      { data: nomoAxisDots.map((x) => ({ x, y: 0.09 })), backgroundColor: "#e00000", pointRadius: 2.6, pointBorderWidth: 0 },
      { data: pts(nomoSmallDots), backgroundColor: "#333", pointRadius: 0.6, pointBorderWidth: 0 },
      ...nomoDrops.map(redDrop),
      poly(nomoAgeShape, "#2020f0", "#2020f0", 1.2),
      ...nomoBoxes.map(box).reverse(),
      ...nomoConnectors.map(([a, b, r]) => ({ data: pts([[a, r], [b, r]]), showLine: true, borderColor: "#d5d5d5", borderWidth: 1.4, pointRadius: 0 })),
      { data: [{ x: 0, y: 0.09 }, { x: 100, y: 0.09 }], showLine: true, borderColor: "#555", borderWidth: 1.4, pointRadius: 0 },
      segT([[250, 7.515], [310, 7.515]], "#707070", 1.5),
      { ...segT(densityTotal, "#5a5af0", 1), fill: "shape", backgroundColor: "#eeeeee" },
      ...nomoProbAxes.map((a) => segT([[a.start, a.row], [303.9, a.row]], a.color, 1.3)),
    ];
    out.push({
      rect,
      config: {
        type: "scatter",
        data: { datasets },
        plugins: [
          {
            id: "nomoText",
            afterDatasetsDraw(ch: any) {
              const c = ch.ctx;
              const X = (v: number) => ch.scales.x.getPixelForValue(v);
              const T = (v: number) => ch.scales.xt.getPixelForValue(v);
              const Y = (v: number) => ch.scales.y.getPixelForValue(v);
              const small = `9.5px ${F}`;
              nomoRowNames.forEach(([s, r, st]) => {
                const f = st.includes("bold") ? `italic bold 10.6px ${F}` : st ? `italic 9.6px ${F}` : `10.7px ${F}`;
                txt(c, s, X(-26.87), Y(r), f, "#333");
              });
              pointTicks.forEach((v) => txt(c, String(v), X(v), Y(0.25), small, "#333", "center"));
              totalTicks.forEach((v) => txt(c, String(v), T(v), Y(7.67), small, "#333", "center"));
              nomoLevels.forEach(([s, x, r]) => txt(c, s, X(x), Y(r), `9px ${F}`, "#333", "center"));
              nomoProbAxes.forEach((a) => {
                txt(c, a.title, T(a.titleEnd), Y(a.row - 0.01), `italic 9.7px ${F}`, "#444", "right");
                a.labels.forEach(([s, x]) => txt(c, s, T(x), Y(a.labelRow), small, "#333", "center"));
                txt(c, a.red, T(a.redX), Y(a.redRow), `italic 10px ${F}`, "#e03030", "center");
              });
              txt(c, String(predictedTotal), T(predictedTotal), Y(7.41), `italic 10px ${F}`, "#e03030", "center");
            },
          },
        ],
        options: baseOptions(0, {
          x: { type: "linear", display: false, min: xMin, max: xMax },
          xt: { type: "linear", display: false, min: tMin, max: tMax, axis: "x" },
          y: { type: "linear", display: false, min: rMin, max: rMax, reverse: true },
        }),
      },
    });
  }

  /* F */
  {
    const p = plotPanel({
      x0: 1335, x1: 1768, y0: 538, y1: 902, padR: 3,
      yTitle: "Observed OS (%)", yTitleX: 1254, yTitleSize: 18.3,
      xTitle: "Nomogram\u2212predicted OS (%)", xTitleY: 984, xTitleSize: 18.3,
      xAxis: { min: -0.04, max: 1.04, ticks: unitTicks, fmt: (v: number) => v.toFixed(1), size: 19, tl: 12, pad: 13.5 },
      yAxis: { min: -0.04, max: 1.04, ticks: unitTicks, fmt: (v: number) => v.toFixed(1), size: 19, tl: 12, pad: 8.5, rot: true },
    });
    const rugTop = 1.04;
    const rug: any[] = [];
    rugCounts.forEach((n, i) => {
      const x = rugStart + rugStep * i;
      rug.push({ x, y: rugTop }, { x, y: rugTop - (n * rugPixelsPerCount) / 337 }, { x: NaN, y: NaN });
    });
    const gapLine = (d: number[][], color: string) => ({
      data: d.map(([x, y]) => ({ x, y })),
      showLine: true,
      borderColor: color,
      borderWidth: 1.6,
      backgroundColor: "#fff",
      pointRadius: 10,
      pointBorderWidth: 0,
    });
    const errors = (d: number[][]) => ({
      data: d.flatMap(([x, , lo, hi]) => [{ x, y: lo }, { x, y: hi }, { x: NaN, y: NaN }]),
      showLine: true,
      borderColor: "#111",
      borderWidth: 1.6,
      pointStyle: "line",
      pointRadius: 5,
      pointBorderWidth: 1.6,
      pointBorderColor: "#111",
    });
    const crosses = (d: number[][]) => ({
      data: d.map(([x, y]) => ({ x, y: y + calCorrection })),
      pointStyle: "crossRot",
      pointRadius: 5.5,
      pointBorderWidth: 1.4,
      pointBorderColor: "#1515f0",
    });
    const dots = (d: number[][], color: string) => ({
      data: d.map(([x, y]) => ({ x, y })),
      backgroundColor: color,
      pointRadius: 4,
      pointBorderWidth: 0,
    });
    out.push({
      rect: p.rect,
      config: p.make(
        [
          crosses(cal1), crosses(cal3), crosses(cal5),
          errors(cal1), errors(cal3), errors(cal5),
          dots(cal3, "#0000f0"), dots(cal5, "#e00000"), dots(cal1, "#86f53b"),
          { data: [{ x: -0.04, y: -0.04 }, { x: 1.04, y: 1.04 }], showLine: true, borderColor: "#e0e0e0", borderWidth: 1.4, pointRadius: 0 },
          gapLine(cal1, "#86f53b"), gapLine(cal3, "#0000f0"), gapLine(cal5, "#e00000"),
          { data: rug, showLine: true, borderColor: "#444", borderWidth: 1, pointRadius: 0 },
        ],
        [
          framePlugin(DARK, 1.3),
          overlay(p.ox, p.oy, (c) => {
            const ys = [833, 856.7, 880];
            const cs = ["#86f53b", "#0000f0", "#e00000"];
            calLegend.forEach((s, i) => {
              seg(c, 1648, ys[i], 1684.5, ys[i], cs[i], 1.6);
              txt(c, s, 1702, ys[i] + 1, `18px ${F}`);
            });
          }),
        ]
      ),
    });
  }
  return out;
}

const LETTERS: [string, number, number][] = [
  ["A", 2, 29], ["B", 700, 28], ["C", 1246, 28], ["D", 2, 495], ["E", 595, 497], ["F", 1245, 497],
];

export default function App() {
  const root = useRef<HTMLDivElement>(null);
  useEffect(() => {
    const specs = buildCharts();
    const host = root.current!;
    const made: { ch: Chart; el: HTMLCanvasElement }[] = [];
    specs.forEach((s) => {
      const el = document.createElement("canvas");
      el.width = s.rect.width;
      el.height = s.rect.height;
      el.style.cssText = `position:absolute;left:${s.rect.left}px;top:${s.rect.top}px;width:${s.rect.width}px;height:${s.rect.height}px;`;
      host.appendChild(el);
      made.push({ ch: new Chart(el, s.config), el });
    });
    return () => {
      made.forEach(({ ch, el }) => {
        ch.destroy();
        el.remove();
      });
    };
  }, []);
  return (
    <div ref={root} style={{ position: "absolute", left: 0, top: 0, width: 1772, height: 997, background: "#fff", overflow: "hidden", filter: "blur(0.45px)" }}>
      {LETTERS.map(([s, x, base]) => (
        <div key={s} style={{ position: "absolute", left: x, top: base - 29.6, font: `bold 35px/35px ${F}`, color: "#000" }}>
          {s}
        </div>
      ))}
    </div>
  );
}
